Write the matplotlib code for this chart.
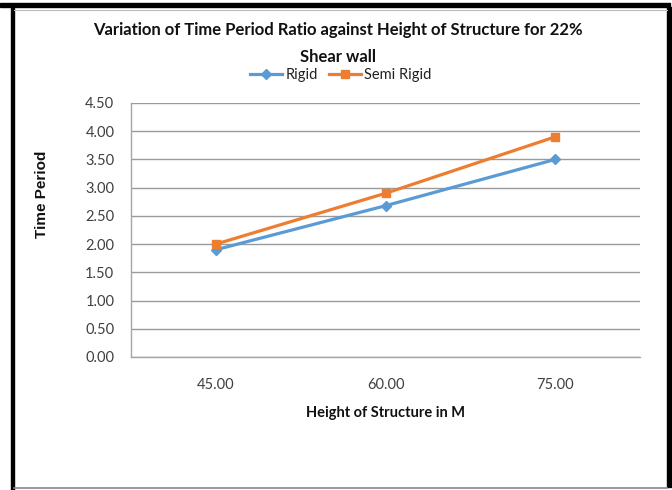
import matplotlib
matplotlib.use("Agg")
import matplotlib.pyplot as plt
from matplotlib.patches import Rectangle
from matplotlib.lines import Line2D

heights = ["45.00", "60.00", "75.00"]
rigid = [1.90, 2.68, 3.50]
semi_rigid = [2.00, 2.90, 3.90]
yticks = [0, 0.5, 1.0, 1.5, 2.0, 2.5, 3.0, 3.5, 4.0, 4.5]

plt.rcParams['font.family'] = ['Lato', 'DejaVu Sans']

W, H = 672, 490
fig = plt.figure(figsize=(W / 100, H / 100), dpi=100)

def px(x, y):
    return x / W, 1 - y / H

# axes box in pixels: left 131, right 640, top 103, bottom 357
ax = fig.add_axes([131 / W, 1 - 357 / H, (640 - 131) / W, (357 - 103) / H])

blue = '#5B9BD5'
orange = '#ED7D31'
xs = range(len(heights))
ax.plot(xs, rigid, color=blue, lw=2.3, marker='D', ms=5.5, label='Rigid', zorder=3)
ax.plot(xs, semi_rigid, color=orange, lw=2.3, marker='s', ms=6, label='Semi Rigid', zorder=3)

ax.set_xlim(-0.5, len(heights) - 0.5)
ax.set_ylim(0, 4.5)
ax.set_yticks(yticks)
ax.set_yticklabels([f"{v:.2f}" for v in yticks])
ax.set_xticks(list(xs))
ax.set_xticklabels(heights)
ax.tick_params(length=0, labelsize=10.5, colors='#404040')
ax.tick_params(axis='y', pad=12)
ax.tick_params(axis='x', pad=15)
ax.grid(axis='y', color='#9a9a9a', lw=1)
ax.set_axisbelow(True)
for s in ['top', 'right']:
    ax.spines[s].set_visible(False)
for s in ['left', 'bottom']:
    ax.spines[s].set_color('#a6a6a6')
    ax.spines[s].set_linewidth(1)

ax.set_xlabel("Height of Structure in M", fontsize=10.5, fontweight='bold', color='#111111', labelpad=10)

fig.text(*px(42, 194), "Time Period", rotation=90, ha='center', va='center',
         fontsize=11, fontweight='bold', family=['Liberation Sans', 'DejaVu Sans'], color='#111111')

fig.text(*px(338, 30), "Variation of Time Period Ratio against Height of Structure for 22%",
         ha='center', va='center', fontsize=12, fontweight='bold', color='#111111')
fig.text(*px(338, 57), "Shear wall", ha='center', va='center', fontsize=12,
         fontweight='bold', color='#111111')

handles = [Line2D([], [], color=blue, lw=2.3, marker='D', ms=5),
           Line2D([], [], color=orange, lw=2.3, marker='s', ms=6)]
fig.legend(handles, ['Rigid', 'Semi Rigid'], loc='center', bbox_to_anchor=px(341, 75),
           ncol=2, frameon=False, fontsize=10.5, handlelength=2.2, handletextpad=0.2,
           columnspacing=0.8, borderpad=0, labelcolor='#222222')

# page border around the chart
fig.add_artist(Rectangle(px(0, 7), 670 / W, 4 / H, transform=fig.transFigure, color='black'))
fig.add_artist(Rectangle(px(11, 490), 3 / W, 482 / H, transform=fig.transFigure, color='black'))
fig.add_artist(Rectangle(px(667, 487), 4 / W, 480 / H, transform=fig.transFigure, color='black'))
fig.add_artist(Line2D([14 / W, 667 / W], [1 - 488 / H] * 2, transform=fig.transFigure, color='#888888', lw=1.2))
fig.add_artist(Line2D([14 / W, 667 / W], [1 - 10 / H] * 2, transform=fig.transFigure, color='#bbbbbb', lw=0.8))

fig.savefig("out.png", dpi=100)
